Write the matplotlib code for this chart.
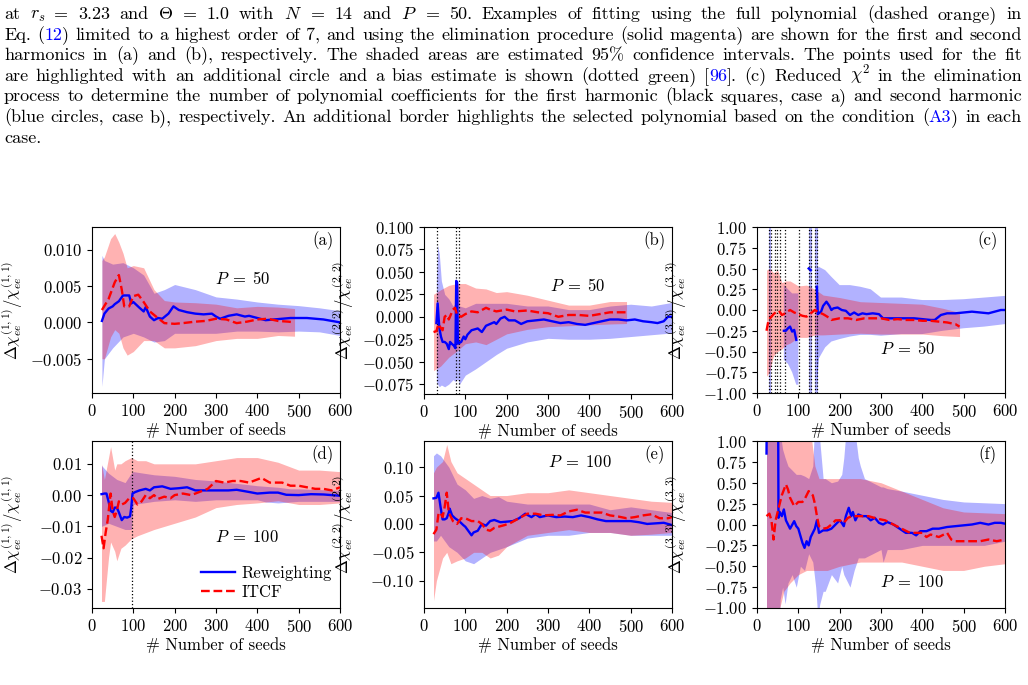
import matplotlib
matplotlib.use("Agg")
import numpy as np
import matplotlib.pyplot as plt

plt.rcParams["font.family"] = "serif"
plt.rcParams["font.serif"] = ["cmr10"]
plt.rcParams["mathtext.fontset"] = "cm"
plt.rcParams["axes.formatter.use_mathtext"] = True
plt.rcParams["font.size"] = 12

nan = np.nan

# ---- caption text (top of the page) ----
caption = [
    "at $r_s$ = 3.23 and $\\Theta$ = 1.0 with $N$ = 14 and $P$ = 50. Examples of fitting using the full polynomial (dashed orange) in",
    "Eq. (|12|) limited to a highest order of 7, and using the elimination procedure (solid magenta) are shown for the first and second",
    "harmonics in (a) and (b), respectively. The shaded areas are estimated 95% confidence intervals. The points used for the fit",
    "are highlighted with an additional circle and a bias estimate is shown (dotted green) [|96|]. (c) Reduced $\\chi^2$ in the elimination",
    "process to determine the number of polynomial coefficients for the first harmonic (black squares, case a) and second harmonic",
    "(blue circles, case b), respectively. An additional border highlights the selected polynomial based on the condition (|A3|) in each",
    "case.",
]

# ---- (a) P=50, first harmonic ----
a_x_rw = [24, 30, 40, 50, 55, 65, 75, 90, 95, 100, 115, 125, 130, 140, 150, 160, 170, 185, 197, 210, 230, 250,
          270, 290, 300, 310, 330, 350, 370, 380, 400, 420, 440, 460, 480, 500, 520, 540, 560, 580, 600]
a_y_rw = [0.0002, 0.0012, 0.0019, 0.0022, 0.0025, 0.0029, 0.0037, 0.0037, 0.0026, 0.0028, 0.002, 0.0015, 0.0021,
          0.0008, 0.0003, 0.0006, 0.0005, 0.0012, 0.0022, 0.0017, 0.0014, 0.0012, 0.0011, 0.0012, 0.0008, 0.0005,
          0.0009, 0.0011, 0.0008, 0.0009, 0.0006, 0.0003, 0.0004, 0.0005, 0.0006, 0.0006, 0.0006, 0.0005, 0.0004,
          0.0002, 0.0]
a_x_it = [24, 40, 55, 65, 72, 78, 90, 100, 112, 125, 140, 155, 175, 200, 220, 250, 275, 300, 325, 350, 375, 400,
          425, 450, 475, 490]
a_y_it = [0.0017, 0.0032, 0.0055, 0.0065, 0.0045, 0.0022, 0.0022, 0.0036, 0.0038, 0.0028, 0.0015, 0.0008,
          -0.0001, -0.0002, -0.0001, 0.0001, 0.0002, 0.0005, 0.0004, -0.0001, 0.0001, 0.0004, 0.0005, 0.0002,
          0.0001, 0.0]
a_bx = [24, 30, 50, 75, 100, 125, 150, 175, 200, 250, 300, 350, 400, 450, 500, 550, 600]
a_blo = [-0.0088, -0.005, -0.0035, -0.002, -0.0015, -0.002, -0.0027, -0.0025, -0.0015, -0.0015, -0.0015,
         -0.0012, -0.0012, -0.0013, -0.0012, -0.0013, -0.0018]
a_bhi = [0.0092, 0.0085, 0.008, 0.0082, 0.0075, 0.0065, 0.004, 0.0045, 0.0052, 0.0045, 0.0035, 0.0032, 0.0028,
         0.0025, 0.0023, 0.002, 0.0016]
a_rx = [24, 30, 45, 55, 65, 75, 85, 100, 125, 150, 175, 200, 250, 300, 350, 400, 450, 490]
a_rlo = [-0.005, -0.005, -0.002, -0.001, -0.0015, -0.0035, -0.0045, -0.004, -0.0025, -0.0025, -0.0035, -0.0035,
         -0.0032, -0.0025, -0.0022, -0.0022, -0.0018, -0.0019]
a_rhi = [0.0085, 0.009, 0.0115, 0.0122, 0.011, 0.0095, 0.0075, 0.0078, 0.0075, 0.0045, 0.003, 0.0028, 0.0027,
         0.0025, 0.002, 0.0022, 0.0021, 0.0019]

# ---- (b) P=50, second harmonic ----
b_x_rw = [30, 33, 37, 41, 45, 50, 55, 60, 63, 67, 72, 76, 78, 80, 82, 90, 96, 100, 105, 115, 130, 140, 150, 160,
          170, 175, 185, 195, 205, 220, 235, 250, 270, 290, 310, 330, 350, 370, 390, 410, 430, 450, 470, 490, 510,
          530, 550, 565, 580, 590, 600]
b_y_rw = [-0.007, 0.015, -0.012, -0.022, -0.028, -0.028, -0.03, -0.036, -0.028, -0.03, -0.032, -0.035, 0.04,
          0.038, -0.03, -0.028, -0.022, -0.025, -0.02, -0.015, -0.013, -0.017, -0.01, -0.008, -0.006, -0.008,
          -0.002, 0.0, -0.004, -0.004, -0.008, -0.005, -0.004, -0.003, -0.005, -0.007, -0.006, -0.008, -0.009,
          -0.007, -0.005, -0.003, -0.003, -0.004, -0.003, -0.005, -0.006, -0.007, -0.005, 0.0, 0.0]
b_x_it = [23, 30, 35, 40, 45, 50, 55, 60, 70, 75, 80, 90, 100, 115, 130, 150, 160, 175, 200, 220, 250, 275, 300,
          325, 350, 375, 400, 425, 450, 475, 490]
b_y_it = [-0.017, -0.016, -0.008, -0.012, -0.015, 0.0, 0.002, -0.003, 0.008, 0.01, 0.002, 0.0, 0.003, 0.006,
          0.005, 0.01, 0.008, 0.006, 0.008, 0.006, 0.007, 0.005, 0.004, 0.0, 0.002, 0.002, 0.001, 0.003, 0.005,
          0.005, 0.005]
b_bx = [30, 33, 37, 42, 50, 60, 70, 76, 78, 82, 86, 100, 125, 150, 175, 200, 250, 300, 350, 400, 450, 500, 550, 600]
b_blo = [-0.072, -0.075, -0.078, -0.076, -0.078, -0.075, -0.07, -0.072, -0.07, -0.07, -0.075, -0.065, -0.058,
         -0.05, -0.042, -0.035, -0.028, -0.024, -0.025, -0.025, -0.024, -0.022, -0.02, -0.018]
b_bhi = [0.04, 0.08, 0.07, 0.04, 0.025, 0.02, 0.012, 0.015, 0.04, 0.04, 0.012, 0.01, 0.015, 0.015, 0.015, 0.015,
         0.012, 0.012, 0.008, 0.008, 0.012, 0.014, 0.012, 0.016]
b_rx = [23, 40, 60, 80, 100, 125, 150, 175, 200, 250, 300, 350, 400, 450, 490]
b_rlo = [-0.06, -0.055, -0.045, -0.038, -0.03, -0.028, -0.031, -0.025, -0.019, -0.014, -0.011, -0.01, -0.009,
         -0.008, -0.0075]
b_rhi = [0.025, 0.03, 0.035, 0.037, 0.037, 0.032, 0.031, 0.027, 0.028, 0.024, 0.0185, 0.013, 0.013, 0.017, 0.017]
b_vlines = [31, 78, 84]

# ---- (c) P=50, third harmonic ----
c_x_rw = [65, 70, 75, 80, 85, 90, 95, 110, 125, 130, 138, 145, 147, 155, 160, 168, 175, 180, 185, 195, 205, 215,
          225, 235, 245, 255, 265, 280, 295, 305, 320, 340, 360, 380, 400, 420, 430, 445, 460, 480, 500, 520, 540,
          560, 575, 590, 600]
c_y_rw = [-0.25, -0.25, -0.22, -0.2, -0.26, -0.24, -0.36, nan, 0.5, 0.48, nan, 0.28, -0.05, -0.02, 0.05, 0.1,
          0.05, 0.0, 0.02, 0.03, 0.0, -0.01, -0.06, -0.03, -0.06, -0.04, -0.05, -0.04, -0.05, -0.1, -0.1, -0.1,
          -0.1, -0.1, -0.11, -0.12, -0.12, -0.06, -0.04, -0.04, -0.03, -0.02, -0.03, -0.04, -0.02, 0.0, 0.0]
c_x_it = [23, 28, 35, 40, 45, 50, 55, 60, 65, 70, 80, 90, 100, 110, 120, 130, 140, 150, 160, 170, 180, 200, 220,
          240, 260, 280, 300, 320, 340, 360, 380, 400, 420, 440, 460, 480, 490]
c_y_it = [-0.25, -0.12, -0.08, -0.05, -0.03, -0.04, -0.02, -0.06, -0.05, -0.03, 0.0, -0.03, -0.05, -0.07, -0.08,
          -0.04, 0.0, -0.03, -0.05, -0.08, -0.12, -0.1, -0.1, -0.12, -0.1, -0.1, -0.1, -0.12, -0.11, -0.12, -0.12,
          -0.13, -0.13, -0.14, -0.15, -0.17, -0.2]
c_bx = [65, 75, 85, 95, 100, 101, 144, 145, 150, 165, 180, 200, 225, 250, 275, 300, 325, 350, 400, 450, 500, 550, 600]
c_blo = [-0.6, -0.65, -0.75, -0.9, -0.9, nan, nan, -0.9, -0.58, -0.45, -0.38, -0.35, -0.32, -0.3, -0.3, -0.31,
         -0.3, -0.29, -0.29, -0.25, -0.22, -0.2, -0.17]
c_bhi = [0.3, 0.25, 0.2, 0.2, 0.2, nan, nan, 0.5, 0.52, 0.48, 0.4, 0.3, 0.3, 0.28, 0.25, 0.15, 0.15, 0.15, 0.12,
         0.12, 0.13, 0.15, 0.17]
c_rx = [23, 30, 40, 50, 60, 70, 80, 100, 120, 140, 160, 200, 250, 300, 350, 400, 450, 490]
c_rlo = [-0.8, -0.75, -0.55, -0.5, -0.47, -0.42, -0.4, -0.33, -0.33, -0.3, -0.3, -0.29, -0.28, -0.29, -0.29,
         -0.29, -0.31, -0.32]
c_rhi = [0.48, 0.5, 0.45, 0.48, 0.33, 0.35, 0.35, 0.29, 0.3, 0.25, 0.18, 0.15, 0.1, 0.09, 0.08, 0.07, 0.02, -0.03]
c_vlines = [30, 34, 43, 48, 55, 67, 102, 127, 131, 140, 145]
c_vspans = [(28, 35), (125, 132), (141, 147)]

# ---- (d) P=100, first harmonic ----
d_x_rw = [23, 30, 35, 40, 45, 50, 55, 60, 65, 72, 78, 85, 92, 95, 98, 105, 115, 130, 140, 150, 170, 190, 210, 230,
          250, 270, 300, 330, 350, 380, 400, 430, 450, 470, 500, 530, 560, 580, 600]
d_y_rw = [0.0003, 0.0005, 0.0005, -0.002, -0.005, -0.0055, -0.004, -0.004, -0.0055, -0.008, -0.007, -0.0072,
          -0.0068, -0.004, 0.0005, 0.001, 0.0015, 0.002, 0.0015, 0.0025, 0.0028, 0.002, 0.0022, 0.0025, 0.0015,
          0.0015, 0.0015, 0.0015, 0.0017, 0.001, 0.0005, 0.0008, 0.0008, 0.0001, 0.0, 0.0003, 0.0002, 0.0, -0.0002]
d_x_it = [23, 28, 33, 38, 45, 50, 55, 60, 65, 72, 80, 90, 100, 110, 120, 130, 140, 150, 160, 175, 190, 200, 220,
          240, 260, 280, 300, 320, 340, 360, 380, 400, 410, 430, 460, 480, 500, 520, 540, 560, 580, 600]
d_y_it = [-0.013, -0.017, -0.012, -0.008, 0.0005, -0.005, -0.007, -0.005, -0.002, -0.003, -0.0025, -0.001, -0.001,
          -0.003, -0.002, 0.0, -0.001, 0.0, -0.0012, -0.0005, -0.001, 0.0, 0.0005, 0.0, 0.001, 0.002, 0.0045, 0.004,
          0.0045, 0.0045, 0.004, 0.005, 0.0055, 0.004, 0.004, 0.003, 0.003, 0.0025, 0.002, 0.002, 0.0015, 0.0025]
d_bx = [23, 40, 60, 80, 95, 100, 150, 200, 250, 300, 400, 420, 450, 480, 500, 600]
d_blo = [-0.01, -0.009, -0.01, -0.011, -0.011, -0.003, -0.002, -0.0015, -0.002, -0.0015, -0.0015, -0.0022,
         -0.0025, -0.0022, -0.002, -0.002]
d_bhi = [0.0095, 0.007, 0.005, 0.004, 0.007, 0.0075, 0.0065, 0.006, 0.005, 0.0045, 0.003, 0.0028, 0.0025, 0.002,
         0.002, 0.0015]
d_rx = [23, 30, 40, 45, 55, 60, 70, 80, 95, 110, 130, 150, 200, 250, 300, 350, 400, 450, 500, 550, 600]
d_rlo = [-0.034, -0.034, -0.02, -0.015, -0.018, -0.021, -0.017, -0.016, -0.014, -0.013, -0.012, -0.011, -0.009,
         -0.007, -0.004, -0.003, -0.0025, -0.0018, -0.003, -0.003, -0.0025]
d_rhi = [0.01, 0.005, 0.012, 0.0155, 0.008, 0.01, 0.01, 0.011, 0.012, 0.011, 0.011, 0.01, 0.01, 0.01, 0.011,
         0.012, 0.012, 0.0105, 0.008, 0.008, 0.0075]
d_vlines = [97]

# ---- (e) P=100, second harmonic ----
e_x_rw = [23, 30, 35, 40, 45, 50, 55, 60, 62, 68, 75, 85, 95, 100, 105, 115, 120, 130, 140, 150, 160, 170, 185,
          200, 215, 230, 245, 260, 270, 280, 300, 320, 340, 360, 380, 400, 420, 440, 460, 480, 500, 520, 540, 560,
          580, 600]
e_y_rw = [0.045, 0.046, 0.055, 0.03, 0.008, 0.008, 0.01, 0.02, 0.027, 0.015, 0.01, 0.005, -0.002, -0.005, -0.01,
          -0.02, -0.015, -0.012, 0.0, -0.003, 0.005, 0.007, 0.003, 0.004, 0.005, 0.01, 0.018, 0.012, 0.017, 0.012,
          0.015, 0.012, 0.013, 0.012, 0.015, 0.012, 0.008, 0.005, 0.005, 0.005, 0.005, 0.003, 0.0, 0.001, 0.002,
          -0.002]
e_x_it = [23, 30, 35, 40, 45, 50, 55, 60, 70, 80, 90, 100, 115, 130, 140, 150, 160, 170, 180, 195, 210, 230, 250,
          270, 290, 310, 330, 350, 370, 390, 410, 430, 450, 470, 490, 510, 530, 550, 570, 590, 600]
e_y_it = [-0.018, -0.01, 0.018, 0.02, 0.012, 0.03, 0.055, 0.02, 0.005, 0.0, 0.01, 0.01, 0.005, 0.005, 0.0, -0.01,
          -0.012, -0.007, -0.005, -0.002, 0.002, 0.01, 0.018, 0.018, 0.015, 0.016, 0.015, 0.022, 0.025, 0.02, 0.02,
          0.02, 0.015, 0.013, 0.01, 0.012, 0.015, 0.017, 0.01, 0.01, 0.012]
e_bx = [23, 30, 40, 60, 80, 100, 120, 140, 160, 180, 200, 250, 300, 350, 400, 450, 500, 550, 600]
e_blo = [-0.03, -0.03, -0.02, -0.04, -0.05, -0.065, -0.07, -0.06, -0.05, -0.045, -0.04, -0.025, -0.02, -0.02,
         -0.015, -0.015, -0.02, -0.02, -0.02]
e_bhi = [0.12, 0.125, 0.12, 0.1, 0.07, 0.06, 0.045, 0.05, 0.045, 0.048, 0.04, 0.035, 0.035, 0.035, 0.035, 0.025,
         0.03, 0.025, 0.02]
e_rx = [23, 30, 45, 55, 65, 80, 100, 120, 140, 160, 180, 200, 250, 300, 350, 400, 450, 500, 550, 600]
e_rlo = [-0.135, -0.1, -0.06, -0.05, -0.07, -0.065, -0.06, -0.05, -0.05, -0.06, -0.055, -0.04, -0.02, -0.015,
         -0.01, -0.015, -0.015, -0.02, -0.018, -0.015]
e_rhi = [0.09, 0.1, 0.11, 0.14, 0.11, 0.09, 0.08, 0.07, 0.06, 0.05, 0.05, 0.05, 0.055, 0.055, 0.06, 0.055, 0.05,
         0.045, 0.04, 0.038]

# ---- (f) P=100, third harmonic ----
f_x_rw = [23, 24, 51, 52, 55, 60, 65, 70, 75, 80, 90, 95, 100, 110, 115, 120, 125, 130, 140, 145, 150, 160, 170,
          180, 190, 200, 205, 210, 215, 222, 228, 232, 238, 245, 255, 265, 275, 285, 295, 305, 315, 330, 345, 360,
          375, 385, 395, 410, 425, 440, 460, 480, 500, 520, 540, 560, 575, 590, 600]
f_y_rw = [0.85, 1.5, 1.5, 0.08, 0.15, 0.1, 0.18, 0.05, 0.0, -0.05, 0.04, -0.02, -0.05, -0.22, -0.28, -0.2, -0.25,
          -0.15, -0.05, 0.05, -0.1, -0.07, -0.07, -0.05, 0.0, 0.05, 0.02, -0.02, 0.1, 0.2, 0.1, 0.15, 0.05, 0.12,
          0.1, 0.1, 0.05, 0.08, 0.02, 0.0, 0.03, 0.0, -0.05, -0.1, -0.1, -0.13, -0.08, -0.08, -0.05, -0.05, -0.03,
          -0.02, -0.01, 0.0, 0.02, 0.0, 0.02, 0.02, 0.01]
f_x_it = [23, 30, 35, 40, 45, 50, 55, 60, 70, 75, 80, 90, 100, 110, 115, 125, 135, 140, 145, 150, 160, 170, 180,
          190, 200, 210, 220, 230, 250, 270, 290, 310, 330, 350, 370, 385, 400, 410, 420, 440, 460, 470, 480, 500,
          520, 540, 560, 580, 600]
f_y_it = [0.1, 0.13, 0.05, -0.18, 0.05, 0.15, 0.25, 0.35, 0.48, 0.42, 0.32, 0.22, 0.27, 0.27, 0.3, 0.4, 0.35,
          0.25, 0.1, -0.02, -0.05, -0.04, 0.0, 0.05, 0.05, 0.02, 0.08, 0.1, 0.1, 0.1, 0.07, 0.05, 0.0, -0.05, -0.1,
          -0.1, -0.1, -0.15, -0.12, -0.15, -0.1, -0.18, -0.2, -0.2, -0.2, -0.2, -0.18, -0.2, -0.18]
f_bx = [23, 52, 56, 62, 68, 75, 85, 95, 105, 115, 125, 135, 142, 147, 152, 160, 165, 180, 195, 205, 210, 215, 220,
        225, 235, 245, 250, 260, 280, 300, 305, 315, 350, 400, 450, 500, 550, 600]
f_blo = [-1.5, -1.5, -0.9, -0.75, -0.95, -0.7, -0.6, -0.75, -0.5, -0.55, -0.35, -0.45, -0.75, -1.1, -0.95, -0.8,
         -0.8, -0.6, -0.7, -0.5, -0.6, -0.65, -0.7, -0.75, -0.55, -0.4, -0.4, -0.4, -0.35, -0.3, -0.45, -0.3, -0.3,
         -0.25, -0.25, -0.25, -0.25, -0.2]
f_bhi = [1.5, 1.5, 1.1, 0.9, 0.8, 0.7, 0.65, 0.6, 0.6, 0.58, 0.55, 0.7, 1.5, 1.5, 1.0, 0.55, 0.55, 0.5, 0.52,
         0.6, 0.8, 1.1, 1.5, 1.5, 1.2, 0.8, 0.7, 0.55, 0.5, 0.45, 0.45, 0.43, 0.4, 0.35, 0.3, 0.27, 0.26, 0.25]
f_rx = [23, 50, 55, 65, 80, 100, 120, 125, 130, 140, 150, 170, 200, 250, 300, 350, 400, 450, 500, 550, 600]
f_rlo = [-1.5, -1.5, -1.0, -0.8, -0.7, -0.6, -0.55, -0.55, -0.55, -0.55, -0.55, -0.55, -0.5, -0.45, -0.45, -0.45,
         -0.5, -0.55, -0.55, -0.5, -0.47]
f_rhi = [1.5, 1.5, 1.5, 1.5, 1.5, 1.5, 1.5, 1.3, 1.1, 0.7, 0.55, 0.55, 0.55, 0.55, 0.5, 0.4, 0.3, 0.2, 0.15, 0.14,
         0.13]

W, H = 1028, 685
fig = plt.figure(figsize=(W / 100, H / 100), dpi=100)
renderer = fig.canvas.get_renderer()


def caption_line(text, y_px, x0_px=4, x1_px=1022, size=13, justify=True):
    # place words one by one so the line is justified like the page
    words = []
    for w in text.split(" "):
        parts = []
        for i, s in enumerate(w.split("|")):
            if s:
                t = fig.text(0, 1 - y_px / H, s, fontsize=size, va="baseline",
                             color="blue" if i % 2 else "black")
                parts.append((t, t.get_window_extent(renderer).width))
        words.append(parts)
    total = sum(pw for p in words for _, pw in p)
    if justify and len(words) > 1:
        gap = (x1_px - x0_px - total) / (len(words) - 1)
    else:
        gap = size * 0.333 * 100 / 72
    x = x0_px
    for parts in words:
        for t, pw in parts:
            t.set_x(x / W)
            x += pw
        x += gap


for i, line in enumerate(caption):
    caption_line(line, 19 + 20.6 * i, justify=(i < len(caption) - 1))


def make_ax(left_px, top_px, bottom_px):
    return fig.add_axes([left_px / W, 1 - bottom_px / H, 248 / W, (bottom_px - top_px) / H])


def draw(ax, band_b, band_r, rw, it, ylim, yticks, tag, ptxt, ppos, ylab, labx):
    ax.fill_between(band_b[0], band_b[1], band_b[2], color="blue", alpha=0.3, lw=0)
    ax.fill_between(band_r[0], band_r[1], band_r[2], color="red", alpha=0.3, lw=0)
    ax.plot(rw[0], rw[1], color="blue", lw=1.7, label="Reweighting")
    ax.plot(it[0], it[1], color="red", lw=1.7, ls="--", label="ITCF")
    ax.set_xlim(0, 600)
    ax.set_ylim(*ylim)
    ax.set_xticks([0, 100, 200, 300, 400, 500, 600])
    ax.set_yticks(yticks)
    ax.set_xlabel("# Number of seeds", labelpad=2)
    ax.set_ylabel(ylab)
    ax.yaxis.set_label_coords(labx, 0.5)
    ax.text(0.93, 0.92, tag, transform=ax.transAxes, ha="center", va="center")
    ax.text(ppos[0], ppos[1], ptxt, transform=ax.transAxes, ha="center", va="center")


lab1 = r"$\Delta\chi_{ee}^{(1,1)}/\chi_{ee}^{(1,1)}$"
lab2 = r"$\Delta\chi_{ee}^{(2,2)}/\chi_{ee}^{(2,2)}$"
lab3 = r"$\Delta\chi_{ee}^{(3,3)}/\chi_{ee}^{(3,3)}$"
p50 = r"$P\;=\;50$"
p100 = r"$P\;=\;100$"

ax_a = make_ax(92, 227, 393)
draw(ax_a, (a_bx, a_blo, a_bhi), (a_rx, a_rlo, a_rhi), (a_x_rw, a_y_rw), (a_x_it, a_y_it),
     (-0.0097, 0.0131), [-0.005, 0.0, 0.005, 0.010], "(a)", p50, (0.61, 0.69), lab1, -0.27)

ax_b = make_ax(424, 227, 394)
for v in b_vlines:
    ax_b.axvline(v, color="black", ls=":", lw=0.9)
draw(ax_b, (b_bx, b_blo, b_bhi), (b_rx, b_rlo, b_rhi), (b_x_rw, b_y_rw), (b_x_it, b_y_it),
     (-0.086, 0.1), np.arange(-0.075, 0.101, 0.025), "(b)", p50, (0.62, 0.65), lab2, -0.275)

ax_c = make_ax(757, 227, 393)
for a, b in c_vspans:
    ax_c.axvspan(a, b, color="blue", alpha=0.3, lw=0)
for v in c_vlines:
    ax_c.axvline(v, color="black", ls=":", lw=0.9)
draw(ax_c, (c_bx, c_blo, c_bhi), (c_rx, c_rlo, c_rhi), (c_x_rw, c_y_rw), (c_x_it, c_y_it),
     (-1, 1), np.arange(-1, 1.01, 0.25), "(c)", p50, (0.61, 0.27), lab3, -0.275)

ax_d = make_ax(92, 441, 608)
for v in d_vlines:
    ax_d.axvline(v, color="black", ls=":", lw=0.9)
draw(ax_d, (d_bx, d_blo, d_bhi), (d_rx, d_rlo, d_rhi), (d_x_rw, d_y_rw), (d_x_it, d_y_it),
     (-0.0361, 0.0173), [-0.03, -0.02, -0.01, 0.0, 0.01], "(d)", p100, (0.625, 0.425), lab1, -0.27)
ax_d.legend(loc="lower right", frameon=False, borderaxespad=0.1, handlelength=2.0,
            handletextpad=0.4, labelspacing=0.2)

ax_e = make_ax(424, 441, 608)
draw(ax_e, (e_bx, e_blo, e_bhi), (e_rx, e_rlo, e_rhi), (e_x_rw, e_y_rw), (e_x_it, e_y_it),
     (-0.148, 0.146), [-0.10, -0.05, 0.0, 0.05, 0.10], "(e)", p100, (0.63, 0.875), lab2, -0.275)

ax_f = make_ax(757, 441, 608)
draw(ax_f, (f_bx, f_blo, f_bhi), (f_rx, f_rlo, f_rhi), (f_x_rw, f_y_rw), (f_x_it, f_y_it),
     (-1, 1), np.arange(-1, 1.01, 0.25), "(f)", p100, (0.625, 0.155), lab3, -0.275)

fig.savefig("out.png", dpi=100)
